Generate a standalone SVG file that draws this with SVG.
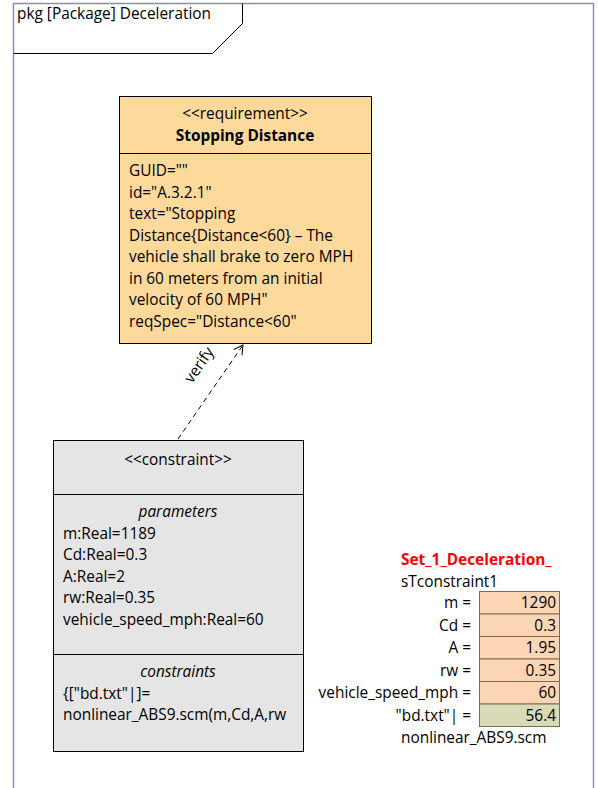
<svg xmlns="http://www.w3.org/2000/svg" width="598" height="788" viewBox="0 0 598 788">
<style>
text{font-family:"Open Sans","Liberation Sans",Arial,sans-serif;font-size:15.4px;fill:#000}
.c{text-anchor:middle}
.r{text-anchor:end}
.i{font-style:italic}
.b{font-weight:bold}
.box{stroke:#000;stroke-width:1}
.cell{stroke:#7f6a50;stroke-width:1}
</style>
<defs>
<marker id="open" markerWidth="12" markerHeight="12" refX="10" refY="6" orient="auto" markerUnits="userSpaceOnUse">
<path d="M1,1 L10,6 L1,11" fill="none" stroke="#000" stroke-width="1"/>
</marker>
</defs>
<rect width="598" height="788" fill="#fff"/>
<g id="frame">
<path d="M13.5,788 V3.5 H593.5 V788" fill="none" stroke="#8a8ac8" stroke-width="1.5"/>
<path d="M13.5,53.5 H212.5 L242.5,23.5 V3.5" fill="none" stroke="#000" stroke-width="1"/>
<text x="17" y="19">pkg [Package] Deceleration</text>
</g>
<g id="req">
<rect class="box" x="119.5" y="96.5" width="252" height="247" fill="#fdd99c"/>
<line class="box" x1="119.5" y1="153.5" x2="371.5" y2="153.5"/>
<text class="c" x="245" y="119">&lt;&lt;requirement&gt;&gt;</text>
<text class="c b" x="245" y="141">Stopping Distance</text>
<text x="129" y="176">GUID=""</text>
<text x="129" y="197.5">id="A.3.2.1"</text>
<text x="129" y="219">text="Stopping</text>
<text x="129" y="240.5">Distance{Distance&lt;60} – The</text>
<text x="129" y="262">vehicle shall brake to zero MPH</text>
<text x="129" y="283.5">in 60 meters from an initial</text>
<text x="129" y="305">velocity of 60 MPH"</text>
<text x="129" y="326.5">reqSpec="Distance&lt;60"</text>
</g>
<g id="constraint">
<rect class="box" x="53.5" y="440.5" width="250" height="311" fill="#e5e5e5"/>
<line class="box" x1="53.5" y1="494.5" x2="303.5" y2="494.5"/>
<line class="box" x1="53.5" y1="654.5" x2="303.5" y2="654.5"/>
<text class="c" x="178" y="465">&lt;&lt;constraint&gt;&gt;</text>
<text class="c i" x="178" y="517">parameters</text>
<text x="63" y="538.5">m:Real=1189</text>
<text x="63" y="560">Cd:Real=0.3</text>
<text x="63" y="581.5">A:Real=2</text>
<text x="63" y="603">rw:Real=0.35</text>
<text x="63" y="624.5">vehicle_speed_mph:Real=60</text>
<text class="c i" x="178" y="677">constraints</text>
<text x="63" y="698.5">{["bd.txt"|]=</text>
<text x="63" y="720">nonlinear_ABS9.scm(m,Cd,A,rw</text>
</g>
<g id="table">
<text class="b" x="401" y="565" fill="#ff0000" style="fill:#ff0000">Set_1_Deceleration_</text>
<text x="401" y="587">sTconstraint1</text>
<rect class="cell" x="479.5" y="591.5" width="80" height="22.5" fill="#fcd5b4"/>
<rect class="cell" x="479.5" y="614" width="80" height="22.5" fill="#fcd5b4"/>
<rect class="cell" x="479.5" y="636.5" width="80" height="22.5" fill="#fcd5b4"/>
<rect class="cell" x="479.5" y="659" width="80" height="22.5" fill="#fcd5b4"/>
<rect class="cell" x="479.5" y="681.5" width="80" height="22.5" fill="#fcd5b4"/>
<rect class="cell" x="479.5" y="704" width="80" height="22.5" fill="#d8dab8"/>
<text class="r" x="471" y="608">m =</text>
<text class="r" x="471" y="630.5">Cd =</text>
<text class="r" x="471" y="653">A =</text>
<text class="r" x="471" y="675.5">rw =</text>
<text class="r" x="471" y="698">vehicle_speed_mph =</text>
<text class="r" x="471" y="720.5">"bd.txt"| =</text>
<text class="r" x="556" y="608">1290</text>
<text class="r" x="556" y="630.5">0.3</text>
<text class="r" x="556" y="653">1.95</text>
<text class="r" x="556" y="675.5">0.35</text>
<text class="r" x="556" y="698">60</text>
<text class="r" x="556" y="720.5">56.4</text>
<text x="401" y="743">nonlinear_ABS9.scm</text>
</g>
<g id="connectors">
<line x1="178" y1="439" x2="243" y2="345" stroke="#000" stroke-width="1" stroke-dasharray="5,4" marker-end="url(#open)"/>
<text x="0" y="0" transform="translate(192,384) rotate(-55.3)">verify</text>
</g>
</svg>
